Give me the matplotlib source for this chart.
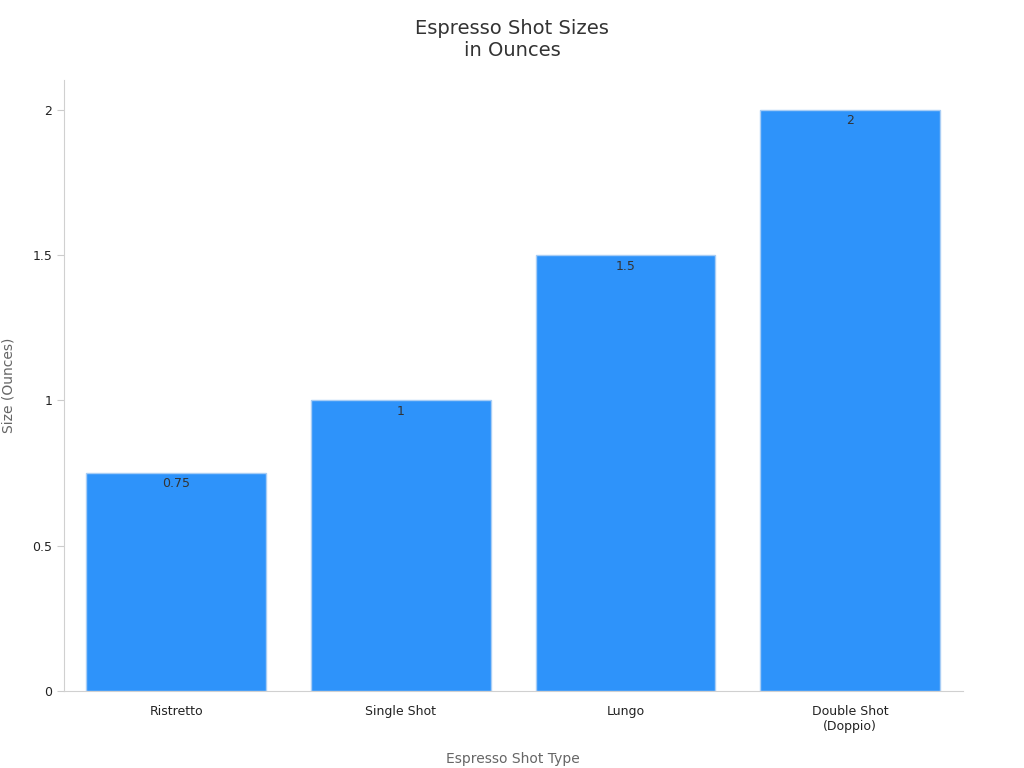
import matplotlib
matplotlib.use("Agg")
import matplotlib.pyplot as plt

categories = ["Ristretto", "Single Shot", "Lungo", "Double Shot\n(Doppio)"]
sizes = [0.75, 1, 1.5, 2]
value_labels = ["0.75", "1", "1.5", "2"]

fig = plt.figure(figsize=(10.24, 7.68), dpi=100)
ax = fig.add_axes([0.0625, 0.1003, 0.8775, 0.7955])

x = range(len(categories))
ax.bar(x, sizes, width=0.8, color="#2E93FA", edgecolor="#a8cdf5", linewidth=1)
for xi, v, lab in zip(x, sizes, value_labels):
    ax.text(xi, v - 0.015, lab, ha="center", va="top", fontsize=9, color="#333333")

ax.set_xlim(-0.5, 3.5)
ax.set_ylim(0, 2.103)
ax.set_xticks(list(x))
ax.set_xticklabels(categories, fontsize=9, color="#222222")
ax.set_yticks([0, 0.5, 1, 1.5, 2])
ax.set_yticklabels(["0", "0.5", "1", "1.5", "2"], fontsize=9, color="#222222")
ax.tick_params(axis="x", length=0, pad=10)
ax.tick_params(axis="y", length=5, color="#cccccc")

for s in ["top", "right"]:
    ax.spines[s].set_visible(False)
for s in ["left", "bottom"]:
    ax.spines[s].set_color("#d0d0d0")

ax.set_xlabel("Espresso Shot Type", fontsize=10, color="#666666", labelpad=14)
ax.set_ylabel("Size (Ounces)", fontsize=10, color="#666666", labelpad=12)
fig.suptitle("Espresso Shot Sizes\nin Ounces", fontsize=14, color="#333333", y=0.975)

fig.savefig("out.png", dpi=100)
